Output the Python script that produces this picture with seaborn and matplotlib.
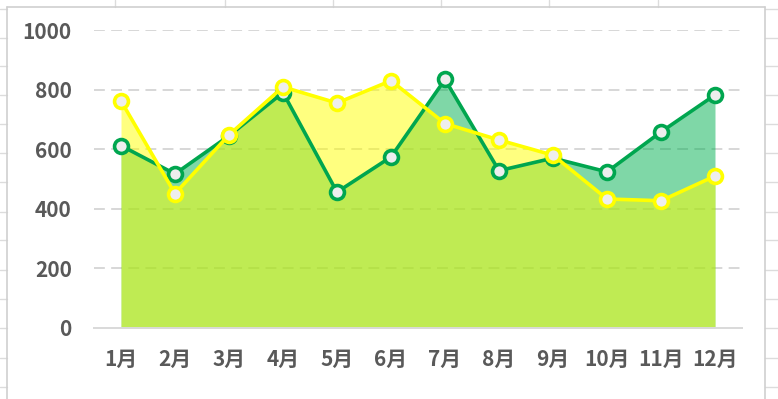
import matplotlib
matplotlib.use("Agg")
import numpy as np
import pandas as pd
import seaborn as sns
import matplotlib.pyplot as plt
from matplotlib.lines import Line2D

months = ["1月", "2月", "3月", "4月", "5月", "6月", "7月", "8月", "9月", "10月", "11月", "12月"]
green_vals = [612, 517, 645, 790, 456, 574, 834, 528, 570, 524, 658, 782]
yellow_vals = [762, 451, 648, 809, 755, 830, 686, 631, 580, 433, 427, 510]
y_ticks = [0, 200, 400, 600, 800, 1000]

GREEN = "#00a64f"
YELLOW = "#ffff00"

sns.set_style("white")
plt.rcParams['font.family'] = ['Noto Sans CJK SC', 'DejaVu Sans']

df = pd.DataFrame({
    "idx": list(range(len(months))) * 2,
    "value": green_vals + yellow_vals,
    "series": ["green"] * len(months) + ["yellow"] * len(months),
})

W, H = 778, 399
fig = plt.figure(figsize=(W / 100, H / 100), dpi=100)
ax = fig.add_axes([94 / W, (H - 328) / H, (742 - 94) / W, 298 / H])

# area fills
x = np.arange(len(months))
ax.fill_between(x, green_vals, color="#00b050", alpha=0.5, lw=0, zorder=1)
ax.fill_between(x, yellow_vals, color="#ffff00", alpha=0.5, lw=0, zorder=1.1)

for name, col in [("green", GREEN), ("yellow", YELLOW)]:
    sns.lineplot(data=df[df.series == name], x="idx", y="value", ax=ax,
                 color=col, linewidth=2.6, marker="o", markersize=10,
                 markerfacecolor="#eeeeee", markeredgecolor=col,
                 markeredgewidth=2.6, zorder=3, legend=False)

ax.set_xlim(-0.5, len(months) - 0.5)
ax.set_ylim(0, 1000)
ax.set_xlabel("")
ax.set_ylabel("")

ax.set_xticks(x)
ax.set_xticklabels(months)
ax.set_xticks(np.arange(-0.5, len(months), 1), minor=True)
ax.set_yticks(y_ticks)
ax.set_yticklabels([str(v) for v in y_ticks])

ax.tick_params(axis="x", which="major", length=0, pad=15, labelsize=15,
               labelcolor="#595959")
ax.tick_params(axis="x", which="minor", length=6, width=1.2, color="#d9d9d9",
               direction="out")
ax.tick_params(axis="y", length=0, pad=16, labelsize=15, labelcolor="#595959")
for lab in ax.get_xticklabels() + ax.get_yticklabels():
    lab.set_fontweight("bold")

for s in ["top", "right", "left"]:
    ax.spines[s].set_visible(False)
ax.spines["bottom"].set_color("#d9d9d9")
ax.spines["bottom"].set_linewidth(1.4)

for v in y_ticks[1:]:
    ax.axhline(v, color="#d4d4d4", lw=1.3, ls=(0, (6, 3.5)), zorder=0.5)

# spreadsheet frame and cell lines around the chart
cell = "#dcdcdc"
def fline(x0, y0, x1, y1, c=cell, lw=1.0):
    fig.add_artist(Line2D([x0 / W, x1 / W], [1 - y0 / H, 1 - y1 / H],
                          color=c, lw=lw, transform=fig.transFigure))

for yy in [9, 38, 66, 95, 124, 153, 182, 212, 240, 270, 299, 328, 358, 387]:
    fline(0, yy, 7, yy)
    fline(765, yy, W, yy)
for xx in [115, 225, 333, 441, 549, 658]:
    fline(xx, 0, xx, 7)
fline(7, 7, 765, 7, c="#cfcfcf", lw=1.2)
fline(7, 7, 7, H, c="#cfcfcf", lw=1.2)
fline(765, 7, 765, H, c="#cfcfcf", lw=1.2)

fig.savefig("out.png", dpi=100)
